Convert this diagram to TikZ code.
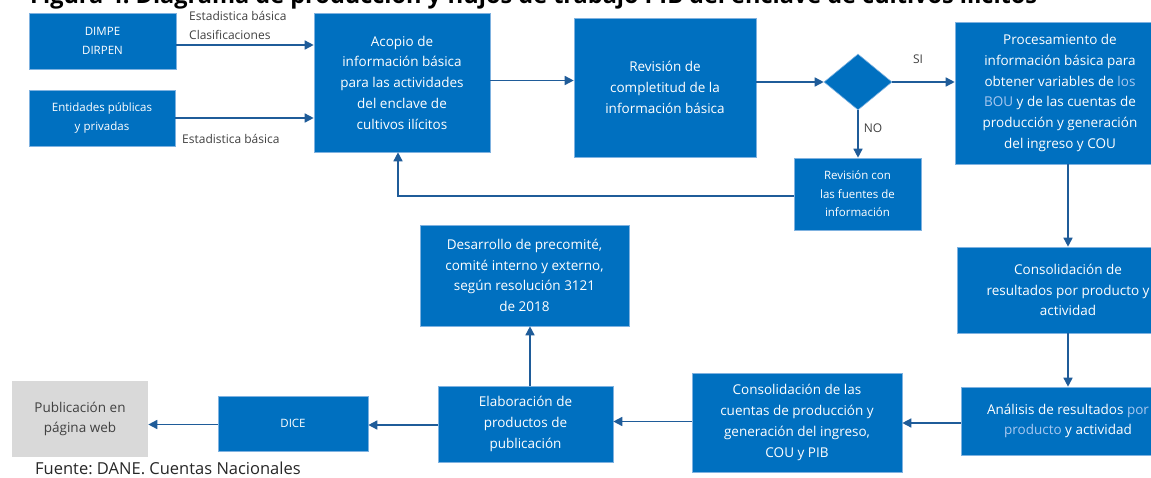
\documentclass[tikz,border=0pt]{standalone}
\usepackage{fontspec}
\setmainfont{Open Sans}
\usetikzlibrary{shapes.geometric,arrows.meta}
\definecolor{boxblue}{HTML}{0070C0}
\definecolor{boxedge}{HTML}{7FB2E0}
\definecolor{arrblue}{HTML}{1F5C99}
\definecolor{txtgray}{HTML}{404040}
\definecolor{webgray}{HTML}{D9D9D9}
\definecolor{markblue}{HTML}{A9C8F0}
\frenchspacing

\begin{document}
\begin{tikzpicture}[x=1pt,y=-1pt,
  blk/.style={draw=boxedge,line width=0.6pt,fill=boxblue,text=white,align=center,
    inner sep=0pt,font=\fontsize{13.5}{20.75}\selectfont},
  blks/.style={blk,font=\fontsize{11.5}{18.5}\selectfont},
  lbl/.style={text=txtgray,inner sep=0pt,font=\fontsize{12}{13}\selectfont},
  arr/.style={draw=arrblue,line width=1.5pt,-{Triangle[length=9pt,width=9pt]}}]

\useasboundingbox (0,0) rectangle (1151,477);

\node[anchor=base west,inner sep=0pt,font=\bfseries\fontsize{23.5}{26}\selectfont] (title) at (30,3)
  {Figura 4. Diagrama de producción y flujos de trabajo PIB del enclave de cultivos ilícitos};

% fuentes
\node[blks,minimum width=147,minimum height=56] (dimpe) at (102.5,41) {DIMPE\\DIRPEN};
\node[blks,minimum width=146,minimum height=56] (ent) at (102,118) {Entidades públicas\\y privadas};

% fila superior
\node[blk,minimum width=176,minimum height=139] (acopio) at (402,82.5)
  {Acopio de\\información básica\\para las actividades\\del enclave de\\cultivos ilícitos};
\node[blk,minimum width=182,minimum height=139] (revision) at (665,87.5)
  {Revisión de\\completitud de la\\información básica};
\node[diamond,draw=boxedge,line width=0.6pt,fill=boxblue,inner sep=0pt,
  minimum width=68,minimum height=56] (dec) at (858,82) {};
\node[blk,minimum width=210,minimum height=142] (proc) at (1060,93)
  {Procesamiento de\\información básica para\\obtener variables de \textcolor{markblue}{los}\\\textcolor{markblue}{BOU} y de las cuentas de\\producción y generación\\del ingreso y COU};
\node[blks,minimum width=127,minimum height=72] (revcon) at (857.5,194)
  {Revisión con\\las fuentes de\\información};

% columna derecha
\node[blk,minimum width=222,minimum height=86] (consres) at (1068,290)
  {Consolidación de\\resultados por producto y\\actividad};
\node[blk,minimum width=214,minimum height=68] (analisis) at (1068,421)
  {Análisis de resultados \textcolor{markblue}{por}\\\textcolor{markblue}{producto} y actividad};

% fila inferior
\node[blk,minimum width=210,minimum height=99] (conscu) at (797,422.5)
  {Consolidación de las\\cuentas de producción y\\generación del ingreso,\\COU y PIB};
\node[blk,minimum width=175,minimum height=76] (elab) at (525.5,424)
  {Elaboración de\\productos de\\publicación};
\node[blk,minimum width=209,minimum height=101] (desa) at (524.5,275.5)
  {Desarrollo de precomité,\\comité interno y externo,\\según resolución 3121\\de 2018};
\node[blks,minimum width=150,minimum height=55] (dice) at (293,423.5) {DICE};
\node[blk,draw=none,fill=webgray,text=txtgray,minimum width=136,minimum height=76] (pub) at (80,419)
  {Publicación en\\página web};

% textos sueltos
\node[lbl,anchor=west] (eb1) at (189,16) {Estadistica básica};
\node[lbl,anchor=west] (clas) at (189,35) {Clasificaciones};
\node[lbl,anchor=west] (eb2) at (182,139) {Estadistica básica};
\node[lbl] (si) at (918,59) {SI};
\node[lbl] (no) at (873,128) {NO};
\node[anchor=base west,inner sep=0pt,text=black!85,font=\fontsize{16.5}{18}\selectfont] (fuente) at (35,474)
  {Fuente: DANE. Cuentas Nacionales};

% flechas
\draw[arr] ([yshift=-4pt]dimpe.east) -- ([yshift=-4pt]dimpe.east -| acopio.west);
\draw[arr] (ent.east) -- (ent.east -| acopio.west);
\draw[arr] ([yshift=2pt]acopio.east) -- ([yshift=2pt]acopio.east -| revision.west);
\draw[arr] (revision.east |- dec.west) -- (dec.west);
\draw[arr] (dec.east) -- (dec.east -| proc.west);
\draw[arr] (dec.south) -- (dec.south |- revcon.north);
\draw[arr] ([yshift=-2pt]revcon.west) -| ([xshift=-4pt]acopio.south);
\draw[arr] (proc.south -| consres.north) -- (consres.north);
\draw[arr] (consres.south) -- (analisis.north);
\draw[arr] ([yshift=-2pt]analisis.west) -- ([yshift=-2pt]analisis.west -| conscu.east);
\draw[arr] ([yshift=1pt]conscu.west) -- ([yshift=1pt]conscu.west -| elab.east);
\draw[arr] ([xshift=4.5pt]elab.north) -- ([xshift=4.5pt]elab.north |- desa.south);
\draw[arr] ([yshift=-1pt]elab.west) -- ([yshift=-1pt]elab.west -| dice.east);
\draw[arr] ([yshift=-1pt]dice.west) -- ([yshift=-1pt]dice.west -| pub.east);

\end{tikzpicture}
\end{document}
